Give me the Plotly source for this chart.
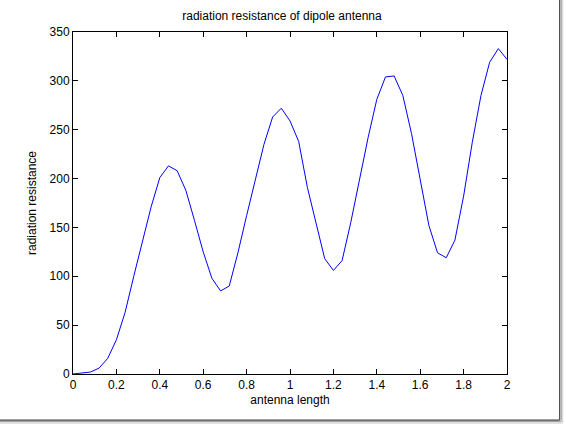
import plotly.graph_objects as go

# antenna length samples (step 0.04)
antenna_length = [0.00, 0.04, 0.08, 0.12, 0.16, 0.20, 0.24, 0.28, 0.32, 0.36,
                  0.40, 0.44, 0.48, 0.52, 0.56, 0.60, 0.64, 0.68, 0.72, 0.76,
                  0.80, 0.84, 0.88, 0.92, 0.96, 1.00, 1.04, 1.08, 1.12, 1.16,
                  1.20, 1.24, 1.28, 1.32, 1.36, 1.40, 1.44, 1.48, 1.52, 1.56,
                  1.60, 1.64, 1.68, 1.72, 1.76, 1.80, 1.84, 1.88, 1.92, 1.96,
                  2.00]
# values
radiation_resistance = [0, 0.8, 2, 6, 16, 35, 63, 100, 137, 171,
                        201, 213, 208, 188, 157, 125, 98, 85, 90, 124,
                        162, 198, 235, 263, 272, 259, 238, 191, 153, 118,
                        106, 116, 155, 198, 242, 281, 304, 305, 285, 246,
                        199, 152, 124, 119, 137, 182, 237, 285, 319, 333,
                        322]

x_ticks = [0, 0.2, 0.4, 0.6, 0.8, 1, 1.2, 1.4, 1.6, 1.8, 2]
x_tick_labels = ["0", "0.2", "0.4", "0.6", "0.8", "1", "1.2", "1.4", "1.6", "1.8", "2"]
y_ticks = [0, 50, 100, 150, 200, 250, 300, 350]

fig = go.Figure()
fig.add_trace(go.Scatter(x=antenna_length, y=radiation_resistance, mode="lines",
                         line=dict(color="#0000ff", width=1), showlegend=False))

axis_style = dict(showline=True, linecolor="black", linewidth=1, mirror="allticks",
                  ticks="inside", ticklen=5, tickcolor="black", showgrid=False,
                  zeroline=False, tickfont=dict(family="Liberation Sans, Arial", size=12, color="black"))

fig.update_xaxes(range=[0, 2], tickvals=x_ticks, ticktext=x_tick_labels,
                 title=dict(text="antenna length", standoff=4,
                            font=dict(family="Liberation Sans, Arial", size=12, color="black")),
                 **axis_style)
fig.update_yaxes(range=[0, 350], tickvals=y_ticks,
                 title=dict(text="radiation resistance", standoff=10,
                            font=dict(family="Liberation Sans, Arial", size=12, color="black")),
                 **axis_style)

# screenshot frame (dark edge with shadow on right and bottom)
pw, ph = 434.0, 341.5
def px_x(p):
    return (p - 73.3) / pw
def px_y(p):
    return (374.0 - p) / ph
frame = []
for off, col in [(0, "#404040"), (1.5, "#a0a0a0"), (3, "#d8d8d8")]:
    frame.append(dict(type="line", xref="paper", yref="paper",
                      x0=px_x(560 + off), x1=px_x(560 + off), y0=px_y(0), y1=px_y(420 + off),
                      line=dict(color=col, width=1.2)))
    frame.append(dict(type="line", xref="paper", yref="paper",
                      x0=px_x(0), x1=px_x(560 + off), y0=px_y(420 + off), y1=px_y(420 + off),
                      line=dict(color=col, width=1.2)))

fig.update_layout(
    width=564, height=424,
    margin=dict(l=73, r=57, t=32, b=50),
    paper_bgcolor="white", plot_bgcolor="white",
    title=dict(text="radiation resistance of dipole antenna", x=0.5, xanchor="center",
               y=1 - 16 / 424, yanchor="middle",
               font=dict(family="Liberation Sans, Arial", size=12, color="black")),
    shapes=frame,
)

fig.write_html("out.html", config={"displayModeBar": False},
               post_script="document.body.style.margin='0';")
